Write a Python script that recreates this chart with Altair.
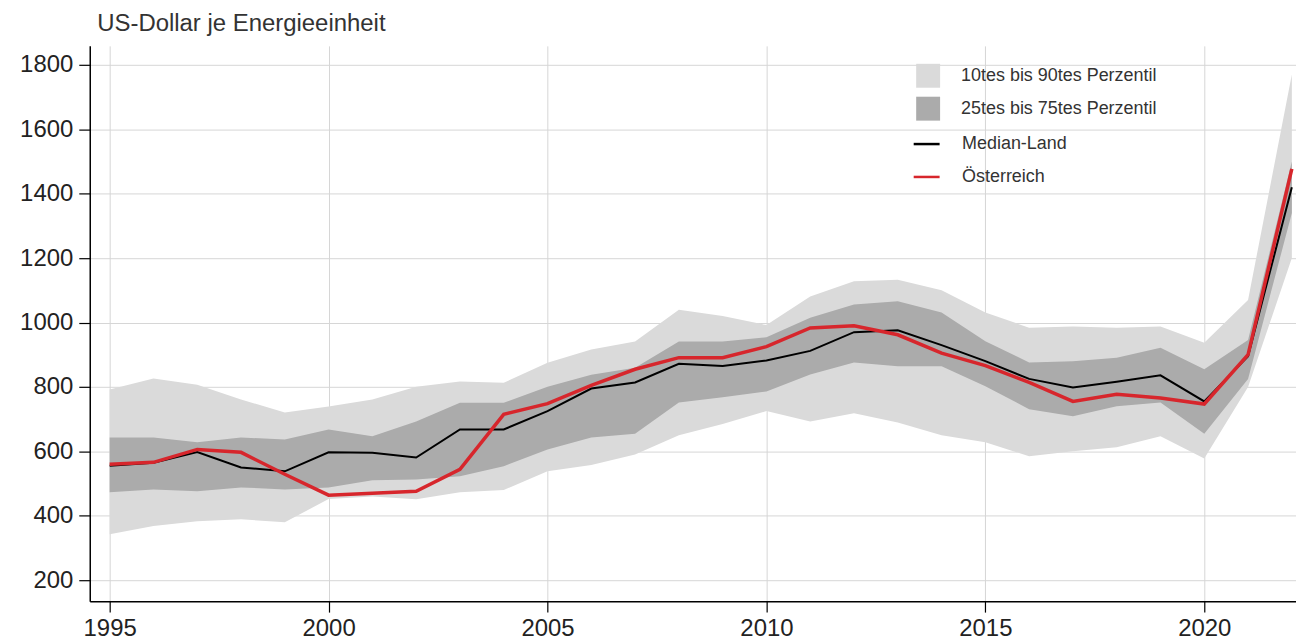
import altair as alt
import pandas as pd

years = list(range(1995, 2023))
p90 = [792, 826, 807, 761, 721, 739, 761, 801, 817, 813, 875, 916, 941, 1040, 1020, 992, 1081, 1128, 1133, 1100, 1031, 984, 988, 984, 988, 937, 1070, 1770]
p75 = [643, 643, 628, 643, 637, 668, 647, 693, 751, 751, 801, 838, 860, 941, 941, 954, 1015, 1056, 1066, 1031, 942, 876, 880, 891, 922, 855, 946, 1500]
p25 = [473, 482, 476, 488, 482, 488, 510, 513, 523, 554, 606, 643, 655, 752, 768, 786, 839, 876, 864, 864, 802, 731, 709, 740, 752, 655, 825, 1340]
p10 = [343, 368, 383, 389, 380, 452, 460, 451, 473, 480, 538, 558, 590, 650, 685, 725, 693, 718, 690, 650, 628, 585, 600, 613, 647, 578, 800, 1200]
median = [555, 565, 598, 550, 538, 597, 596, 581, 668, 668, 725, 795, 814, 872, 865, 882, 912, 970, 976, 930, 880, 825, 798, 816, 836, 755, 895, 1420]
austria = [560, 566, 606, 597, 529, 464, 470, 476, 544, 715, 748, 805, 855, 891, 891, 925, 983, 990, 962, 905, 866, 814, 755, 777, 766, 747, 900, 1477]

band_labels = ["10tes bis 90tes Perzentil", "25tes bis 75tes Perzentil"]
band_colors = ["#dadada", "#ababab"]
line_labels = ["Median-Land", "Österreich"]
line_colors = ["#000000", "#d7262c"]

y_ticks = [200, 400, 600, 800, 1000, 1200, 1400, 1600, 1800]
x_ticks = [1995, 2000, 2005, 2010, 2015, 2020]

df = pd.DataFrame({
    "year": years, "p90": p90, "p75": p75, "p25": p25, "p10": p10,
    "median": median, "austria": austria,
})

FONT = "Liberation Sans"

xenc = alt.X(
    "year:Q",
    scale=alt.Scale(domain=[1994.545, 2022.095], nice=False, zero=False),
    axis=alt.Axis(values=x_ticks, format="d", title=None, labelFlush=False, labelPadding=4),
)

yscale = alt.Scale(domain=[135, 1859], nice=False, zero=False)
yaxis = alt.Axis(
    values=y_ticks, format="d", title="US-Dollar je Energieeinheit",
    titleAngle=0, titleX=7, titleY=-22, titleAlign="left", titleBaseline="middle",
)

fill_scale = alt.Scale(domain=band_labels, range=band_colors)
fill_legend = alt.Legend(
    orient="none", legendX=829, legendY=18, title=None, symbolType="square",
    symbolSize=576, symbolStrokeWidth=0, rowPadding=9, labelFontSize=18,
    labelFont=FONT, labelColor="#333333", labelOffset=21, padding=0, symbolOpacity=1,
    labelLimit=0,
)
stroke_scale = alt.Scale(domain=line_labels, range=line_colors)
stroke_legend = alt.Legend(
    orient="none", legendX=825, legendY=84, title=None, symbolType="stroke",
    symbolSize=676, symbolStrokeWidth=2.5, rowPadding=9, labelFontSize=18,
    labelFont=FONT, labelColor="#333333", labelOffset=21, padding=0,
    labelLimit=0,
)

base = alt.Chart(df)

outer = base.transform_calculate(band="'" + band_labels[0] + "'").mark_area(opacity=1).encode(
    x=xenc,
    y=alt.Y("p10:Q", scale=yscale, axis=yaxis),
    y2="p90:Q",
    fill=alt.Fill("band:N", scale=fill_scale, legend=fill_legend),
)
inner = base.transform_calculate(band="'" + band_labels[1] + "'").mark_area(opacity=1).encode(
    x=xenc,
    y=alt.Y("p25:Q", scale=yscale, axis=yaxis),
    y2="p75:Q",
    fill=alt.Fill("band:N", scale=fill_scale, legend=fill_legend),
)
med = base.transform_calculate(series="'" + line_labels[0] + "'").mark_line(strokeWidth=2).encode(
    x=xenc,
    y=alt.Y("median:Q", scale=yscale, axis=yaxis),
    stroke=alt.Stroke("series:N", scale=stroke_scale, legend=stroke_legend),
)
aut = base.transform_calculate(series="'" + line_labels[1] + "'").mark_line(strokeWidth=3.5).encode(
    x=xenc,
    y=alt.Y("austria:Q", scale=yscale, axis=yaxis),
    stroke=alt.Stroke("series:N", scale=stroke_scale, legend=stroke_legend),
)

chart = alt.layer(outer, inner, med, aut).properties(
    width=1210, height=557,
    autosize=alt.AutoSizeParams(type="none"),
    padding={"left": 82, "top": 37, "right": 0, "bottom": 40},
).configure_axis(
    domainColor="#000000", domainWidth=1.5, tickColor="#000000", tickWidth=1.2,
    tickSize=11, labelFont=FONT, labelFontSize=24, labelColor="#222222",
    gridColor="#d6d6d6", gridWidth=1, labelPadding=6,
    titleFont=FONT, titleFontSize=24, titleFontWeight="normal", titleColor="#333333",
).configure_view(stroke=None)

chart.save("out.html", embed_options={"renderer": "svg", "actions": False})
